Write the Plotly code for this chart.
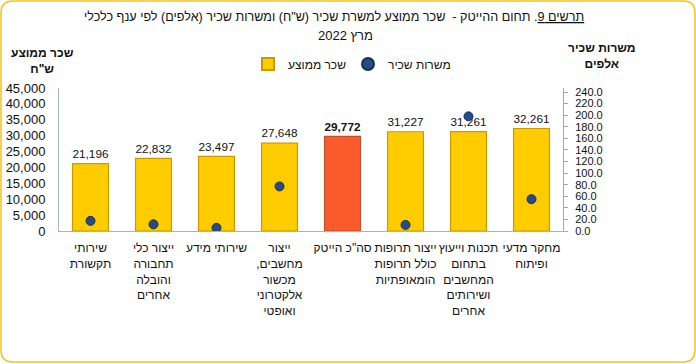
import plotly.graph_objects as go

RLE = "\u202b"
PDF = "\u202c"
RLM = "\u200f"

categories = [
    "שירותי<br>תקשורת",
    "ייצור כלי<br>תחבורה<br>והובלה<br>אחרים",
    "שירותי מידע",
    "ייצור<br>מחשבים," + RLM + "<br>מכשור<br>אלקטרוני<br>ואופטי",
    "סה\"כ הייטק",
    "ייצור תרופות<br>כולל תרופות<br>הומאופתיות",
    "תכנות וייעוץ<br>בתחום<br>המחשבים<br>ושירותים<br>אחרים",
    "מחקר מדעי<br>ופיתוח",
]
avg_wage = [21196, 22832, 23497, 27648, 29772, 31227, 31261, 32261]
employees_k = [17.5, 11.5, 5.5, 77.0, None, 10.5, 198.0, 55.0]
wage_labels = ["21,196", "22,832", "23,497", "27,648", "<b>29,772</b>", "31,227", "31,261", "32,261"]
left_ticks = [0, 5000, 10000, 15000, 20000, 25000, 30000, 35000, 40000, 45000]
right_ticks = [0, 20, 40, 60, 80, 100, 120, 140, 160, 180, 200, 220, 240]

FONT = "Arial, Liberation Sans, sans-serif"
bar_colors = ["#FFCC00"] * len(categories)
bar_colors[4] = "#FB5A2C"
bar_lines = ["#C99A00"] * len(categories)
bar_lines[4] = "#C0502A"

fig = go.Figure()
fig.add_trace(go.Bar(
    x=categories, y=avg_wage, name="שכר ממוצע",
    marker=dict(color=bar_colors, line=dict(color=bar_lines, width=1.2)),
    text=wage_labels, textposition="outside", texttemplate="%{text}",
    textfont=dict(family=FONT, size=13, color="#111111"),
    cliponaxis=False, yaxis="y", legend="legend",
))
fig.add_trace(go.Scatter(
    x=categories, y=employees_k, name="משרות שכיר", mode="markers",
    marker=dict(color="#264B85", size=9, line=dict(color="#16305A", width=1)),
    yaxis="y2", legend="legend2",
))

L, R, T, B = 59, 133, 88, 133
W, H = 696, 364
pw, ph = W - L - R, H - T - B

def px(x):
    return (x - L) / pw

def py(y):
    return (H - B - y) / ph

# rounded border path in paper coords
x0, x1, y0, y1 = px(1), px(695), py(1), py(362)
rx, ry = 12 / pw, 12 / ph
border = (f"M {x0+rx},{y0} L {x1-rx},{y0} Q {x1},{y0} {x1},{y0-ry} "
          f"L {x1},{y1+ry} Q {x1},{y1} {x1-rx},{y1} L {x0+rx},{y1} "
          f"Q {x0},{y1} {x0},{y1+ry} L {x0},{y0-ry} Q {x0},{y0} {x0+rx},{y0} Z")

legend_common = dict(orientation="h", xanchor="left", yanchor="middle",
                     font=dict(family=FONT, size=12, color="#111111"),
                     itemsizing="constant", bgcolor="rgba(0,0,0,0)", itemwidth=30)

fig.update_layout(
    width=W, height=H,
    margin=dict(l=L, r=R, t=T, b=B),
    paper_bgcolor="white", plot_bgcolor="white",
    font=dict(family=FONT, size=12, color="#111111"),
    bargap=0.43,
    showlegend=True,
    legend=dict(x=px(248), y=py(64), **legend_common),
    legend2=dict(x=px(348), y=py(64), **legend_common),
    xaxis=dict(showgrid=False, showline=True, linecolor="#B0B0B0", linewidth=1,
               ticks="", tickfont=dict(family=FONT, size=12, color="#111111"),
               tickangle=0, automargin=False, ticklabelstandoff=6),
    yaxis=dict(range=[0, 45000], tickvals=left_ticks, tickformat=",d",
               showgrid=False, zeroline=False, showline=True, linecolor="#9DB3D4",
               ticks="", ticklabelstandoff=10,
               tickfont=dict(family=FONT, size=13, color="#111111"), automargin=False),
    yaxis2=dict(range=[0, 247], tickvals=right_ticks, tickformat=".1f",
                overlaying="y", side="right", showgrid=False, zeroline=False,
                showline=True, linecolor="#8FAAD6", ticks="outside", ticklen=4,
                tickcolor="#8FAAD6", ticklabelstandoff=5,
                tickfont=dict(family=FONT, size=11, color="#111111"), automargin=False),
    shapes=[dict(type="path", xref="paper", yref="paper", path=border,
                 line=dict(color="#F2C318", width=1.5), fillcolor="rgba(0,0,0,0)", layer="below")],
    annotations=[
        dict(text=RLE + "<u>תרשים 9</u>. תחום ההייטק -  שכר ממוצע למשרת שכיר (ש\"ח) ומשרות שכיר (אלפים) לפי ענף כלכלי" + PDF,
             x=px(334), y=py(17), xref="paper", yref="paper", showarrow=False,
             xanchor="center", yanchor="middle", font=dict(family=FONT, size=12.6, color="#111111")),
        dict(text=RLE + "מרץ 2022" + PDF,
             x=px(345), y=py(35), xref="paper", yref="paper", showarrow=False,
             xanchor="center", yanchor="middle", font=dict(family=FONT, size=13, color="#111111")),
        dict(text="<b>" + RLE + "שכר ממוצע" + PDF + "<br>" + RLE + "ש\"ח" + PDF + "</b>",
             x=px(42), y=py(61), xref="paper", yref="paper", showarrow=False,
             xanchor="center", yanchor="middle", font=dict(family=FONT, size=12, color="#111111")),
        dict(text="<b>" + RLE + "משרות שכיר" + PDF + "<br>" + RLE + "אלפים" + PDF + "</b>",
             x=px(602), y=py(56), xref="paper", yref="paper", showarrow=False,
             xanchor="center", yanchor="middle", font=dict(family=FONT, size=12, color="#111111")),
    ],
)

fig.write_html("out.html", config={"displayModeBar": False},
               post_script="document.body.style.margin='0px';")
